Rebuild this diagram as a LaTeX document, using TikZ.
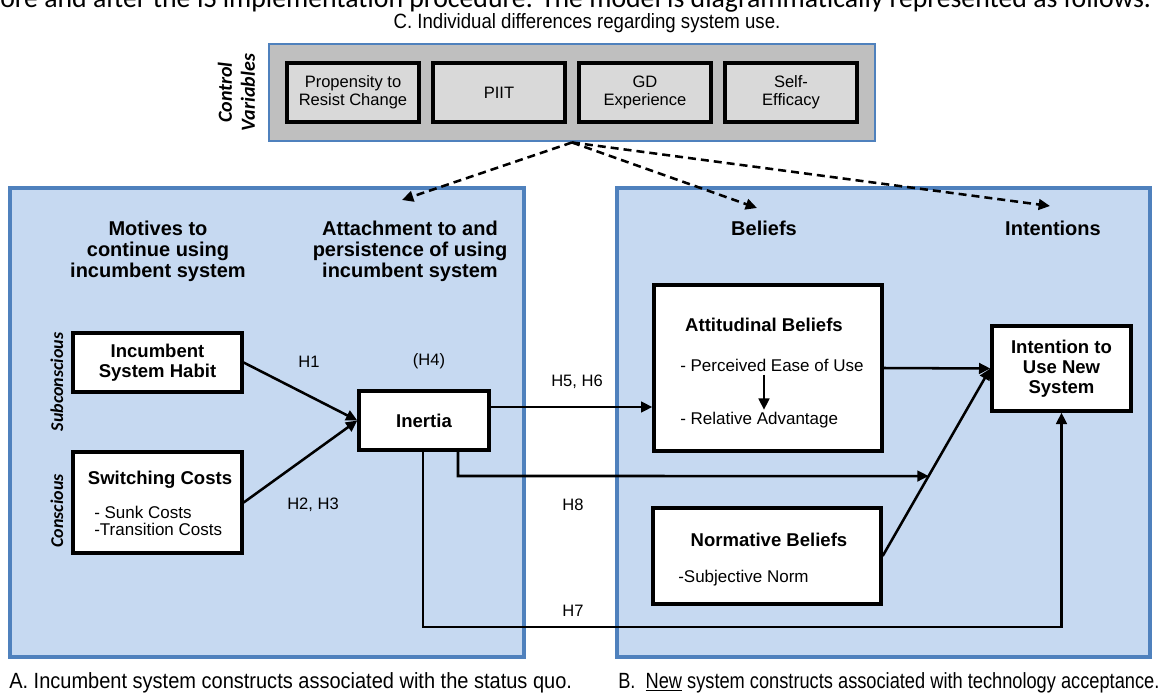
\documentclass[tikz,border=0pt]{standalone}
\usepackage{graphicx}
\usepackage{fontspec}
\setmainfont{Liberation Sans}
\newfontfamily\calib{Carlito}
\newfontfamily\narrowfont[FakeStretch=0.85]{Liberation Sans}
\usetikzlibrary{arrows.meta}

\definecolor{panelfill}{HTML}{C6D9F1}
\definecolor{panelline}{HTML}{4F81BD}
\definecolor{ctrlfill}{HTML}{BFBFBF}
\definecolor{itemfill}{HTML}{D9D9D9}

\begin{document}
\begin{tikzpicture}[x=0.75pt,y=-0.75pt,
  every node/.style={inner sep=0pt},
  panel/.style={fill=panelfill, draw=panelline, line width=2.4pt},
  ctrlbox/.style={fill=ctrlfill, draw=panelline, line width=2.2pt},
  cbox/.style={draw=black, fill=white, line width=2.5pt, align=center,
    font=\bfseries\fontsize{13.9}{15}\selectfont},
  ctrlitem/.style={cbox, fill=itemfill, minimum width=99pt, minimum height=44.25pt,
    font=\fontsize{12.4}{13.5}\selectfont},
  header/.style={align=center, font=\bfseries\fontsize{15}{15.75}\selectfont},
  item/.style={anchor=west, font=\fontsize{12.75}{13.5}\selectfont},
  hyp/.style={font=\fontsize{12.4}{13.5}\selectfont},
  side/.style={rotate=90, align=center, font=\calib\bfseries\itshape\fontsize{13.5}{15}\selectfont},
  capfont/.style={font=\narrowfont\fontsize{16.5}{18}\selectfont},
  link/.style={line width=1.9pt, -{Triangle[length=8.5pt,width=8pt]}},
  ctrllink/.style={link, dash pattern=on 6pt off 3.75pt},
]
\fill[white] (0,0) rectangle (1168,693);
\useasboundingbox (0,0) rectangle (1168,693);

% running text above the figure
\node[anchor=base west] (lead) at (0,7) {\resizebox{863pt}{!}{\calib ore and after the IS implementation procedure. The model is diagrammatically represented as follows.}};

% C: control variables
\node[anchor=base, font=\narrowfont\fontsize{15.5}{17}\selectfont] (capC) at (587,28) {\scalebox{1.06}[1]{C. Individual differences regarding system use.}};
\node[ctrlbox, minimum width=454.5pt, minimum height=72.75pt] (ctrl) at (572,92.5) {};
\node[ctrlitem] (prc) at (353,92.5) {Propensity to\\Resist Change};
\node[ctrlitem] (piit) at (499,92.5) {PIIT};
\node[ctrlitem] (gdx) at (645,92.5) {GD\\Experience};
\node[ctrlitem] (seff) at (791,92.5) {Self-\\Efficacy};
\node[rotate=90, align=center, font=\calib\bfseries\itshape\fontsize{15}{17.25}\selectfont] (cvlabel) at (236.5,92.5) {Control\\Variables};

% panels A and B
\node[panel, minimum width=385.5pt, minimum height=351.75pt] (panelA) at (267,422.5) {};
\node[panel, minimum width=399.75pt, minimum height=351.75pt] (panelB) at (883.5,422.5) {};

% column headers
\node[header] (hmot) at (158,251) {Motives to\\continue using\\incumbent system};
\node[header] (hatt) at (410,251) {Attachment to and\\persistence of using\\incumbent system};
\node[header] (hbel) at (764,228) {Beliefs};
\node[header] (hint) at (1053,228) {Intentions};

% dashed links from the control variables
\coordinate (tA) at (402,200);
\coordinate (tB) at (757,208);
\coordinate (tC) at (1050,206);
\draw[ctrllink] (ctrl.south) -- (tA);
\draw[ctrllink] (ctrl.south) -- (tB);
\draw[ctrllink] (ctrl.south) -- (tC);

% incumbent system constructs
\node[side] (subc) at (57,382) {Subconscious};
\node[side] (consc) at (57,511) {Conscious};
\node[cbox, minimum width=126.75pt, minimum height=44.25pt] (habit) at (157.5,362.5) {Incumbent\\System Habit};
\node[cbox, minimum width=126.75pt, minimum height=75.75pt] (switch) at (157.5,502.5) {};
\node[font=\bfseries\fontsize{13.9}{15}\selectfont] (swt) at (160,480) {Switching Costs};
\node[item] (sunk) at (94,512) {- Sunk Costs};
\node[item] (trans) at (94,529) {-Transition Costs};
\node[cbox, minimum width=97.5pt, minimum height=44.25pt] (inertia) at (424,420.5) {Inertia};

% new system constructs
\node[cbox, minimum width=171pt, minimum height=124.5pt] (attb) at (768,368) {};
\node[font=\bfseries\fontsize{13.9}{15}\selectfont] (attt) at (764,325) {Attitudinal Beliefs};
\node[item] (peou) at (680,365) {- Perceived Ease of Use};
\node[item] (radv) at (680,420) {- Relative Advantage};
\coordinate (peoux) at (764,0);
\draw[link] (peou.south -| peoux) ++(0,3) -- ([yshift=1.5pt]radv.north -| peoux);

\node[cbox, minimum width=171pt, minimum height=72pt] (normb) at (767,556) {};
\node[font=\bfseries\fontsize{13.9}{15}\selectfont] (normt) at (769,540) {Normative Beliefs};
\node[item] (subn) at (678,578) {-Subjective Norm};

\node[cbox, minimum width=104.25pt, minimum height=63.75pt] (intent) at (1061.5,368.5) {Intention to\\Use New\\System};

% hypothesised paths
\draw[link] (habit.east) -- (inertia.west);
\draw[link] (switch.east) -- (inertia.west);
\coordinate (h56) at (570,407);
\draw[link] (inertia.east |- h56) -- (attb.west |- h56);
\draw[link] (attb.east) -- (intent.west);
\draw[link] (normb.east) -- (intent.west);
\coordinate (h8x) at (458,476);
\coordinate (h8far) at (1100,476);
\draw[link] (inertia.south -| h8x) -- (h8x) -- (intersection of normb.east--intent.west and h8x--h8far);
\coordinate (h7low) at (423,627);
\draw[link] (inertia.south -| h7low) -- (h7low) -| (intent.south);

\node[hyp] (lh1) at (309,362) {H1};
\node[hyp] (lh4) at (429,361) {(H4)};
\node[hyp] (lh23) at (313,505) {H2, H3};
\node[hyp] (lh56) at (577,382) {H5, H6};
\node[hyp] (lh8) at (573,505) {H8};
\node[hyp] (lh7) at (573,611) {H7};

% captions of the two panels
\node[capfont, anchor=base west] (capA) at (9,688) {\scalebox{1.07}[1]{A. Incumbent system constructs associated with the status quo.}};
\node[capfont, anchor=base west] (capB) at (618,688) {\scalebox{0.975}[1]{B.~ \underline{New} system constructs associated with technology acceptance.}};
\end{tikzpicture}
\end{document}
